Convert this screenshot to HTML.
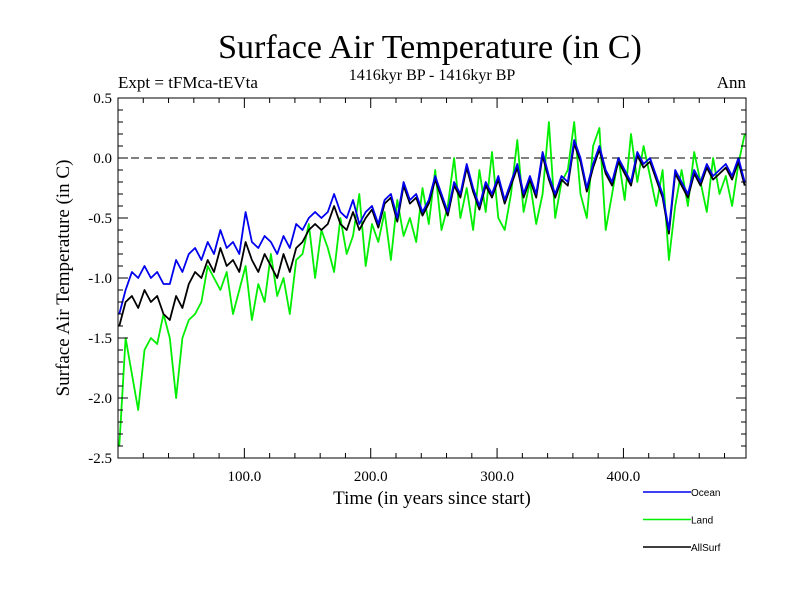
<!DOCTYPE html>
<html><head><meta charset="utf-8"><style>
body{margin:0;background:#fff;}
svg{display:block;font-family:"Liberation Serif",serif;}
</style></head><body>
<svg id="chart" width="800" height="600" xmlns="http://www.w3.org/2000/svg">
<text x="430" y="58" font-size="34" text-anchor="middle">Surface Air Temperature (in C)</text>
<text x="432" y="80" font-size="16" text-anchor="middle">1416kyr BP - 1416kyr BP</text>
<text x="118" y="88" font-size="17">Expt = tFMca-tEVta</text>
<text x="746" y="88" font-size="17" text-anchor="end">Ann</text>
<text transform="translate(69,278) rotate(-90)" font-size="19" text-anchor="middle">Surface Air Temperature (in C)</text>
<text x="432" y="504" font-size="19" text-anchor="middle">Time (in years since start)</text>
<g id="plot"></g>
<g id="legend"></g>
</svg>
<script>
const years = [];
for (let i = 0; i < 100; i++) years.push(i * 5 + 1);
const ocean = [-1.3,-1.1,-0.95,-1.0,-0.9,-1.0,-0.95,-1.05,-1.05,-0.85,-0.95,-0.8,-0.75,-0.85,-0.7,-0.8,-0.6,-0.75,-0.7,-0.8,-0.45,-0.7,-0.75,-0.65,-0.7,-0.8,-0.65,-0.75,-0.55,-0.6,-0.5,-0.45,-0.5,-0.45,-0.3,-0.45,-0.5,-0.35,-0.55,-0.45,-0.4,-0.55,-0.35,-0.3,-0.5,-0.2,-0.35,-0.3,-0.45,-0.35,-0.15,-0.3,-0.45,-0.2,-0.3,-0.05,-0.25,-0.4,-0.2,-0.3,-0.15,-0.35,-0.2,-0.05,-0.3,-0.15,-0.3,0.05,-0.15,-0.3,-0.15,-0.2,0.15,0.0,-0.25,-0.05,0.1,-0.1,-0.2,0.0,-0.1,-0.2,0.05,-0.05,0.0,-0.15,-0.3,-0.6,-0.1,-0.2,-0.3,-0.1,-0.2,-0.05,-0.15,-0.1,-0.05,-0.15,0.0,-0.2];
const land = [-2.4,-1.5,-1.8,-2.1,-1.6,-1.5,-1.55,-1.3,-1.5,-2.0,-1.5,-1.35,-1.3,-1.2,-0.9,-1.0,-1.1,-0.95,-1.3,-1.1,-0.9,-1.35,-1.05,-1.2,-0.8,-1.15,-1.0,-1.3,-0.85,-0.8,-0.55,-1.0,-0.6,-0.75,-0.95,-0.5,-0.8,-0.65,-0.3,-0.9,-0.55,-0.7,-0.45,-0.85,-0.35,-0.65,-0.5,-0.7,-0.25,-0.55,-0.1,-0.6,-0.4,0.0,-0.5,-0.25,-0.6,-0.1,-0.45,0.05,-0.5,-0.6,-0.3,0.15,-0.45,-0.2,-0.55,-0.3,0.3,-0.5,-0.2,-0.1,0.3,-0.3,-0.5,0.1,0.25,-0.6,-0.3,0.0,-0.35,0.2,-0.2,0.1,-0.15,-0.4,-0.1,-0.85,-0.4,-0.1,-0.4,0.05,-0.2,-0.45,0.0,-0.3,-0.15,-0.4,-0.05,0.2];
const allSurf = [-1.4,-1.2,-1.15,-1.25,-1.1,-1.2,-1.15,-1.3,-1.35,-1.15,-1.25,-1.05,-0.95,-1.0,-0.85,-0.95,-0.75,-0.9,-0.85,-0.95,-0.7,-0.85,-0.95,-0.8,-0.9,-1.0,-0.8,-0.95,-0.75,-0.7,-0.6,-0.55,-0.6,-0.55,-0.4,-0.55,-0.6,-0.45,-0.6,-0.5,-0.43,-0.58,-0.38,-0.33,-0.53,-0.23,-0.38,-0.33,-0.48,-0.38,-0.18,-0.33,-0.48,-0.23,-0.33,-0.08,-0.28,-0.43,-0.23,-0.33,-0.18,-0.38,-0.23,-0.08,-0.33,-0.18,-0.33,0.02,-0.18,-0.33,-0.18,-0.23,0.12,-0.03,-0.28,-0.08,0.07,-0.13,-0.23,-0.03,-0.13,-0.23,0.02,-0.08,-0.03,-0.18,-0.33,-0.63,-0.13,-0.23,-0.33,-0.13,-0.23,-0.08,-0.18,-0.13,-0.08,-0.18,-0.03,-0.23];
const xTicks = [100, 200, 300, 400];
const xTickLabels = ["100.0", "200.0", "300.0", "400.0"];
const yTicks = [0.5, 0.0, -0.5, -1.0, -1.5, -2.0, -2.5];
const yTickLabels = ["0.5", "0.0", "-0.5", "-1.0", "-1.5", "-2.0", "-2.5"];

const NS = "http://www.w3.org/2000/svg";
const L = 118, R = 746, T = 98, B = 458;
const xMin = 0, xMax = 497, yMin = -2.5, yMax = 0.5;
const xs = v => L + (v - xMin) / (xMax - xMin) * (R - L);
const ys = v => B - (v - yMin) / (yMax - yMin) * (B - T);
const plot = document.getElementById('plot');
function mk(tag, attrs, parent) {
  const e = document.createElementNS(NS, tag);
  for (const k in attrs) e.setAttribute(k, attrs[k]);
  parent.appendChild(e);
  return e;
}
const z = mk('line', {x1: L, x2: R, y1: ys(0), y2: ys(0), stroke: '#000', 'stroke-width': 1, 'stroke-dasharray': '8,5'}, plot);


function series(vals, color, name) {
  const d = vals.map((v, i) => (i ? 'L' : 'M') + xs(years[i]).toFixed(1) + ',' + ys(v).toFixed(1)).join('');
  const p = mk('path', {d: d, fill: 'none', stroke: color, 'stroke-width': 1.8, 'stroke-linejoin': 'round'}, plot);
  
  
}
series(land, '#00ee00', 'land-series');
series(allSurf, '#000000', 'allsurf-series');
series(ocean, '#0000ee', 'ocean-series');
const fr = mk('rect', {x: L, y: T, width: R - L, height: B - T, fill: 'none', stroke: '#000', 'stroke-width': 1}, plot);


for (let v = 20; v < xMax; v += 20) {
  const len = (v % 100 === 0) ? 10 : 5;
  mk('line', {x1: xs(v), x2: xs(v), y1: B, y2: B - len, stroke: '#000'}, plot);
  mk('line', {x1: xs(v), x2: xs(v), y1: T, y2: T + len, stroke: '#000'}, plot);
}
xTicks.forEach((v, i) => {
  const t = mk('text', {x: xs(v), y: B + 23, 'font-size': 15, 'text-anchor': 'middle'}, plot);
  t.textContent = xTickLabels[i];
  
  
});
for (let k = 0; k <= 30; k++) {
  const v = yMin + k * 0.1;
  const len = (k % 5 === 0) ? 10 : 5;
  mk('line', {x1: L, x2: L + len, y1: ys(v), y2: ys(v), stroke: '#000'}, plot);
  mk('line', {x1: R, x2: R - len, y1: ys(v), y2: ys(v), stroke: '#000'}, plot);
}
yTicks.forEach((v, i) => {
  const t = mk('text', {x: L - 6, y: ys(v) + 5, 'font-size': 15, 'text-anchor': 'end'}, plot);
  t.textContent = yTickLabels[i];
  
  
});
const leg = document.getElementById('legend');
const legNames = ["Ocean", "Land", "AllSurf"];
const legColors = ['#0000ee', '#00ee00', '#000000'];
legNames.forEach((n, i) => {
  const y = 492 + i * 27.5;
  const g = mk('g', {}, leg);
  
  
  mk('line', {x1: 643, x2: 691, y1: y, y2: y, stroke: legColors[i], 'stroke-width': 1.5}, g);
  const t = mk('text', {x: 691, y: y + 4, 'font-size': 10, 'font-family': '"Liberation Sans", sans-serif'}, g);
  t.textContent = n;
});
</script>
</body></html>
